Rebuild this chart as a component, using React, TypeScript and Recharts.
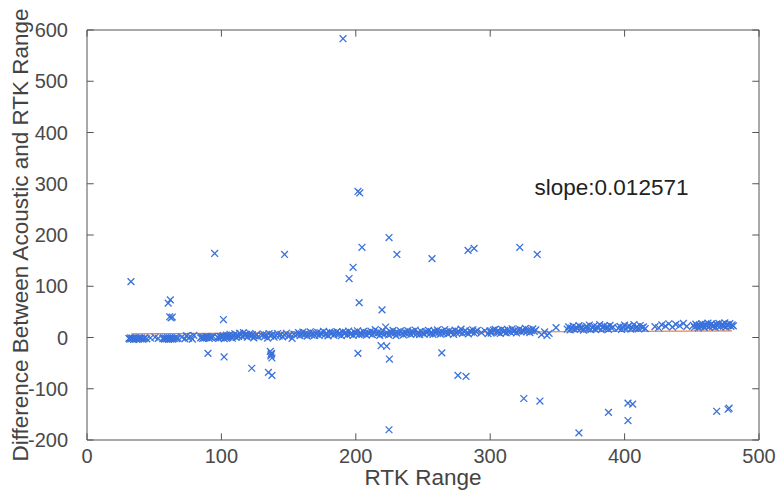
import React from 'react';
import { ScatterChart, Scatter, XAxis, YAxis, ReferenceLine, ReferenceDot } from 'recharts';

// ---- data (RTK range, acoustic - RTK difference) ----
const xTicks = [0, 100, 200, 300, 400, 500];
const yTicks = [-200, -100, 0, 100, 200, 300, 400, 500, 600];
const slopeText = 'slope:0.012571';
const fitLine = [
  { x: 33, y: 7.2 },
  { x: 480, y: 12.8 },
];

const bandNear: [number, number][] = [
  [31.2, -1.5], [31.8, -3.2], [32.5, -0.8], [33.1, -2.4], [33.9, -1.1], [34.6, -3.6], [35.2, -2.0], [35.9, -0.5],
  [36.7, -2.9], [37.4, -1.7], [38.3, -3.1], [39.0, -0.9], [39.8, -2.3], [40.6, -1.4], [41.5, -3.4], [42.3, -2.1],
  [43.1, -0.7], [44.5, -2.6], [47.2, -1.0], [50.6, 0.5], [53.0, -1.8],
  [56.4, -2.2], [57.1, -0.6], [57.8, -3.0], [58.5, -1.3], [59.2, -2.7], [59.9, -0.4], [60.6, -3.5], [61.3, -1.9],
  [62.0, -2.8], [62.7, -0.9], [63.5, -3.3], [64.2, -1.6], [65.0, -2.4], [65.9, -0.3], [66.8, -2.0], [67.6, -1.1],
  [70.5, 0.8], [72.8, -2.5], [74.1, 3.6], [75.6, -1.2], [77.0, 1.9], [78.4, -3.0], [79.5, 4.2],
  [84.6, -0.8], [85.3, 1.2], [86.1, -1.9], [86.8, 0.3], [87.6, -1.0], [88.4, 1.6], [89.2, -0.4], [90.1, 0.9],
  [91.0, -1.5], [91.9, 0.6], [92.8, -0.2], [93.7, 2.1],
];

const bandMid: [number, number][] = [
  [97.2, 0.4], [98.0, -1.6], [98.9, 2.3], [99.7, -0.7], [100.5, 1.5], [101.3, 3.8], [102.1, -2.1], [103.0, 0.9],
  [103.8, 4.6], [104.7, -0.3], [105.5, 2.7], [106.4, 6.0], [107.3, 1.1], [108.1, -1.4], [109.0, 3.4], [110.0, 7.2],
  [110.9, 0.2], [111.8, 4.9], [112.7, 2.0], [113.6, 8.4], [114.6, 5.3], [115.5, 1.6], [116.4, 9.5], [117.4, 3.9],
  [118.3, 6.7], [119.3, 0.8], [120.2, 4.4], [121.2, 7.8], [122.2, 2.6], [123.1, 5.6], [124.1, -0.6], [125.1, 3.1],
  [126.2, 6.3], [127.3, 1.4],
  [130.2, 3.5], [131.3, 6.8], [132.1, 1.9], [133.2, 5.2], [134.4, -1.2], [135.5, 7.4], [136.7, 2.8], [138.0, 5.9],
  [139.2, 0.6], [140.5, 4.1], [141.8, 7.7], [143.0, 3.0], [144.3, 6.1], [145.6, 1.2], [147.0, 4.8], [148.4, 8.2],
  [149.7, 2.4], [151.1, 5.5], [152.6, -1.8], [154.0, 6.6],
  [156.3, 5.8], [157.4, 9.3], [158.5, 3.7], [159.6, 7.1], [160.6, 10.6], [161.7, 4.9], [162.8, 8.4], [163.9, 2.6],
  [165.0, 6.3], [166.1, 11.2], [167.2, 5.1], [168.3, 8.8], [169.4, 3.9], [170.5, 7.5], [171.6, 10.1], [172.7, 4.3],
  [173.8, 9.0], [174.9, 6.6], [176.0, 12.0], [177.1, 5.4], [178.2, 8.1], [179.3, 3.2], [180.4, 10.4], [181.5, 6.9],
  [182.6, 9.7], [183.7, 4.6], [184.8, 7.8], [185.9, 11.5], [187.0, 5.9], [188.1, 8.9], [189.2, 3.5], [190.3, 10.8],
  [191.4, 7.2], [192.5, 9.9], [193.6, 5.0], [194.7, 12.6], [195.8, 6.4], [196.9, 8.6], [198.0, 4.0], [199.1, 10.3],
  [200.2, 7.0], [201.3, 13.1], [202.4, 5.7], [203.5, 9.4], [204.6, 6.1], [205.7, 11.8], [206.8, 8.0], [207.9, 4.4],
  [209.0, 10.0],
  [210.1, 7.3], [211.2, 12.4], [212.3, 5.5], [213.4, 9.6], [214.5, 15.2], [215.6, 6.8], [216.7, 10.9], [217.8, 4.1],
  [218.9, 8.7], [220.0, 13.5], [221.1, 6.0], [222.2, 20.5], [223.3, 9.1], [224.4, 5.3], [225.5, 11.6], [226.6, 7.6],
  [227.7, 14.0], [228.8, 8.3], [229.9, 3.8], [231.0, 10.7], [232.1, 6.9], [233.2, 12.8], [234.3, 8.5], [235.4, 5.0],
  [236.5, 11.0], [237.6, 7.4], [238.7, 13.3], [239.8, 9.2], [240.9, 6.2], [242.0, 11.9], [243.1, 8.0], [244.2, 14.6],
  [245.3, 7.1], [246.4, 10.2], [247.5, 5.6], [248.6, 12.1], [249.7, 8.8],
];

const bandFar: [number, number][] = [
  [250.8, 6.5], [251.9, 11.4], [253.0, 9.0], [254.1, 13.8], [255.2, 7.2], [256.3, 10.6], [257.4, 5.9], [258.5, 12.5],
  [259.6, 8.6], [260.7, 14.9], [261.8, 9.8], [262.9, 6.7], [264.0, 12.0], [265.1, 8.2], [266.2, 15.6], [267.3, 10.4],
  [268.4, 7.0], [269.5, 13.0], [270.6, 9.5], [271.7, 11.7], [272.8, 6.3], [273.9, 14.2], [275.0, 8.9], [276.1, 12.3],
  [277.2, 10.0], [278.3, 16.4], [279.4, 7.8], [280.5, 11.1], [281.6, 13.6], [282.7, 9.3], [283.8, 6.8], [284.9, 12.7],
  [286.0, 10.5], [287.1, 15.0], [288.2, 8.4], [289.3, 11.9], [290.4, 14.1],
  [293.5, 9.6], [296.0, 13.2], [298.4, 7.4], [301.2, 11.5], [303.7, 15.8], [306.3, 9.9],
  [299.6, 12.4], [300.7, 8.6], [302.4, 14.5], [304.8, 10.3], [305.9, 13.7], [307.5, 7.9], [308.6, 16.1], [309.7, 11.0],
  [310.8, 13.9], [311.9, 9.1], [313.0, 15.3], [314.1, 12.2], [315.2, 10.1], [316.3, 17.0], [317.4, 11.6], [318.5, 14.4],
  [319.6, 8.8], [320.7, 13.1], [321.8, 16.6], [322.9, 10.9], [324.0, 14.0], [325.1, 12.5], [326.2, 17.6], [327.3, 11.3],
  [328.4, 15.1], [329.5, 9.7], [330.6, 13.5], [331.7, 16.9], [332.8, 12.0], [333.9, 14.7],
  [338.2, 5.6], [340.5, 10.8], [342.3, 3.9], [343.8, 8.2], [349.0, 19.3],
  [357.3, 16.2], [358.4, 20.7], [359.5, 14.9], [360.6, 18.5], [361.7, 22.4], [362.8, 15.8], [363.9, 19.9], [365.0, 17.3],
  [366.1, 23.1], [367.2, 16.7], [368.3, 20.2], [369.4, 14.4], [370.5, 18.9], [371.6, 21.8], [372.7, 17.0], [373.8, 24.3],
  [374.9, 15.5], [376.0, 19.4], [377.1, 22.0], [378.2, 16.4], [379.3, 20.9], [380.4, 18.1], [381.5, 25.0], [382.6, 15.1],
  [383.7, 19.7], [384.8, 22.7], [385.9, 17.6], [387.0, 21.3], [388.1, 16.0], [389.2, 23.6], [390.3, 18.4], [391.4, 20.4],
  [395.4, 17.8], [396.6, 21.5], [397.7, 15.6], [398.9, 19.6], [400.0, 24.0], [401.1, 17.1], [402.3, 20.8], [403.4, 22.9],
  [404.6, 16.3], [405.7, 19.2], [406.9, 25.3], [408.0, 18.0], [409.2, 21.1], [410.4, 16.8], [411.6, 23.4], [412.8, 19.0],
  [414.0, 20.6], [415.3, 17.4],
  [422.6, 21.2], [425.3, 19.0], [427.7, 24.6], [430.4, 22.1], [432.9, 26.8], [435.6, 20.3], [438.1, 25.5], [440.9, 23.0],
  [443.7, 27.4], [446.3, 21.7],
  [451.2, 23.8], [452.1, 20.1], [453.0, 26.2], [453.9, 22.5], [454.8, 18.9], [455.7, 24.9], [456.6, 21.3], [457.5, 27.1],
  [458.4, 23.2], [459.3, 19.8], [460.2, 25.6], [461.1, 22.0], [462.0, 28.0], [462.9, 20.7], [463.8, 24.4], [464.7, 26.6],
  [465.6, 21.6], [466.5, 23.9], [467.4, 19.5], [468.3, 25.9], [469.2, 22.8], [470.1, 27.6], [471.0, 21.0], [471.9, 24.1],
  [472.8, 26.3], [473.7, 22.3], [474.6, 28.4], [475.5, 20.4], [476.4, 25.1], [477.3, 23.5], [478.2, 27.0], [479.1, 21.9],
  [480.0, 24.7], [480.9, 22.6],
];

const outliers: [number, number][] = [
  [32.7, 109], [60.4, 67], [62.0, 73.5], [61.5, 40.5], [62.6, 38.2], [63.5, 40.0],
  [95, 164], [101.5, 35], [90, -31], [102, -38], [122.6, -60],
  [136.4, -27], [137.3, -31], [136.8, -36], [137.6, -40], [137.0, -33], [135, -68], [137.6, -74],
  [147, 162], [190.5, 583], [195, 115], [198, 137], [201.6, 285], [203, 282], [204.6, 176], [202.5, 68],
  [201.6, -31], [219.5, 54], [218.8, -16], [223, -17], [225, -42], [224.7, -180], [224.7, 195], [230.6, 162],
  [256.7, 154], [264, -30], [276, -74], [282, -76], [283.5, 170], [288, 174], [322, 176], [335, 162],
  [325, -119], [337, -124], [366, -186], [388, -146], [402.5, -128], [406, -130], [402.5, -162],
  [468.5, -144], [477, -140], [477.8, -138],
];

const toPoints = (arr: [number, number][]) => arr.map(([x, y]) => ({ x, y }));
const points = [...toPoints(bandNear), ...toPoints(bandMid), ...toPoints(bandFar), ...toPoints(outliers)];

// ---- styling ----
const MARK = '#3a72dc';
const AXIS = '#555555';
const TICK_TEXT = '#4a4a4a';
const FONT = '"Liberation Sans", Arial, Helvetica, sans-serif';
const XM = 16; // bottom tick margin
const YM = 19; // left tick margin
const X_DOMAIN: [number, number] = [0, 500];
const Y_DOMAIN: [number, number] = [-200, 600];
// inward tick-mark lengths expressed in axis units (~7px)
const TICK_LEN_Y_UNITS = 13;
const TICK_LEN_X_UNITS = 5;

const XMark = (props: any) => {
  const { cx, cy } = props;
  if (cx == null || cy == null) return null;
  const s = 3.4;
  return (
    <path
      d={`M${cx - s},${cy - s}L${cx + s},${cy + s}M${cx - s},${cy + s}L${cx + s},${cy - s}`}
      stroke={MARK}
      strokeWidth={1.3}
      fill="none"
    />
  );
};

const BottomTick = (p: any) => {
  const { x, y, payload } = p;
  return (
    <text x={x} y={y} dy="0.36em" textAnchor="middle" fontSize={20} fill={TICK_TEXT} fontFamily={FONT}>
      {payload.value}
    </text>
  );
};

const LeftTick = (p: any) => {
  const { x, y, payload } = p;
  return (
    <text x={x} y={y} dy="0.355em" textAnchor="end" fontSize={20} fill={TICK_TEXT} fontFamily={FONT}>
      {payload.value}
    </text>
  );
};

const YTitle = (props: any) => {
  const vb = props.viewBox || {};
  const x = vb.x + 1;
  const y = vb.y + vb.height / 2;
  return (
    <text x={x} y={y} transform={`rotate(-90, ${x}, ${y})`} textAnchor="middle" fontSize={22.5} fill="#444" fontFamily={FONT}>
      Difference Between Acoustic and RTK Range
    </text>
  );
};

const XTitle = (props: any) => {
  const vb = props.viewBox || {};
  const x = vb.x + vb.width / 2;
  const y = vb.y + 45;
  return (
    <text x={x} y={y} textAnchor="middle" fontSize={22.5} fill="#444" fontFamily={FONT}>
      RTK Range
    </text>
  );
};

const SlopeLabel = (props: any) => {
  const vb = props.viewBox || {};
  return (
    <text x={vb.x} y={vb.y + 8} textAnchor="start" fontSize={22.5} fill="#222" fontFamily={FONT}>
      {slopeText}
    </text>
  );
};

export default function App() {
  const [x0, x1] = X_DOMAIN;
  const [y0, y1] = Y_DOMAIN;
  return (
    <div style={{ position: 'absolute', left: 0, top: 0, width: 778, height: 491, background: '#fff', fontFamily: FONT }}>
      <ScatterChart width={778} height={491} margin={{ top: 30, right: 19, bottom: 21, left: 27 }}>
        <XAxis
          type="number"
          dataKey="x"
          domain={X_DOMAIN}
          ticks={xTicks}
          height={30}
          tickSize={0}
          tickMargin={XM}
          axisLine={{ stroke: AXIS }}
          tickLine={false}
          tick={<BottomTick />}
          interval={0}
          allowDataOverflow
          label={(p: any) => <XTitle {...p} />}
        />
        <YAxis
          type="number"
          dataKey="y"
          domain={Y_DOMAIN}
          ticks={yTicks}
          width={60}
          tickSize={0}
          tickMargin={YM}
          axisLine={{ stroke: AXIS }}
          tickLine={false}
          tick={<LeftTick />}
          interval={0}
          allowDataOverflow
          label={(p: any) => <YTitle {...p} />}
        />
        <ReferenceLine y={y1} stroke={AXIS} />
        <ReferenceLine x={x1} stroke={AXIS} />
        {xTicks.map((t) => (
          <ReferenceLine key={`xb${t}`} segment={[{ x: t, y: y0 }, { x: t, y: y0 + TICK_LEN_Y_UNITS }]} stroke={AXIS} />
        ))}
        {xTicks.map((t) => (
          <ReferenceLine key={`xt${t}`} segment={[{ x: t, y: y1 }, { x: t, y: y1 - TICK_LEN_Y_UNITS }]} stroke={AXIS} />
        ))}
        {yTicks.map((t) => (
          <ReferenceLine key={`yl${t}`} segment={[{ x: x0, y: t }, { x: x0 + TICK_LEN_X_UNITS, y: t }]} stroke={AXIS} />
        ))}
        {yTicks.map((t) => (
          <ReferenceLine key={`yr${t}`} segment={[{ x: x1, y: t }, { x: x1 - TICK_LEN_X_UNITS, y: t }]} stroke={AXIS} />
        ))}
        <Scatter data={points} shape={<XMark />} isAnimationActive={false} />
        <ReferenceLine segment={fitLine} stroke="#ee7a3a" strokeWidth={1.2} />
        <ReferenceDot x={333} y={293} r={0} fill="none" stroke="none" label={(p: any) => <SlopeLabel {...p} />} />
      </ScatterChart>
    </div>
  );
}
